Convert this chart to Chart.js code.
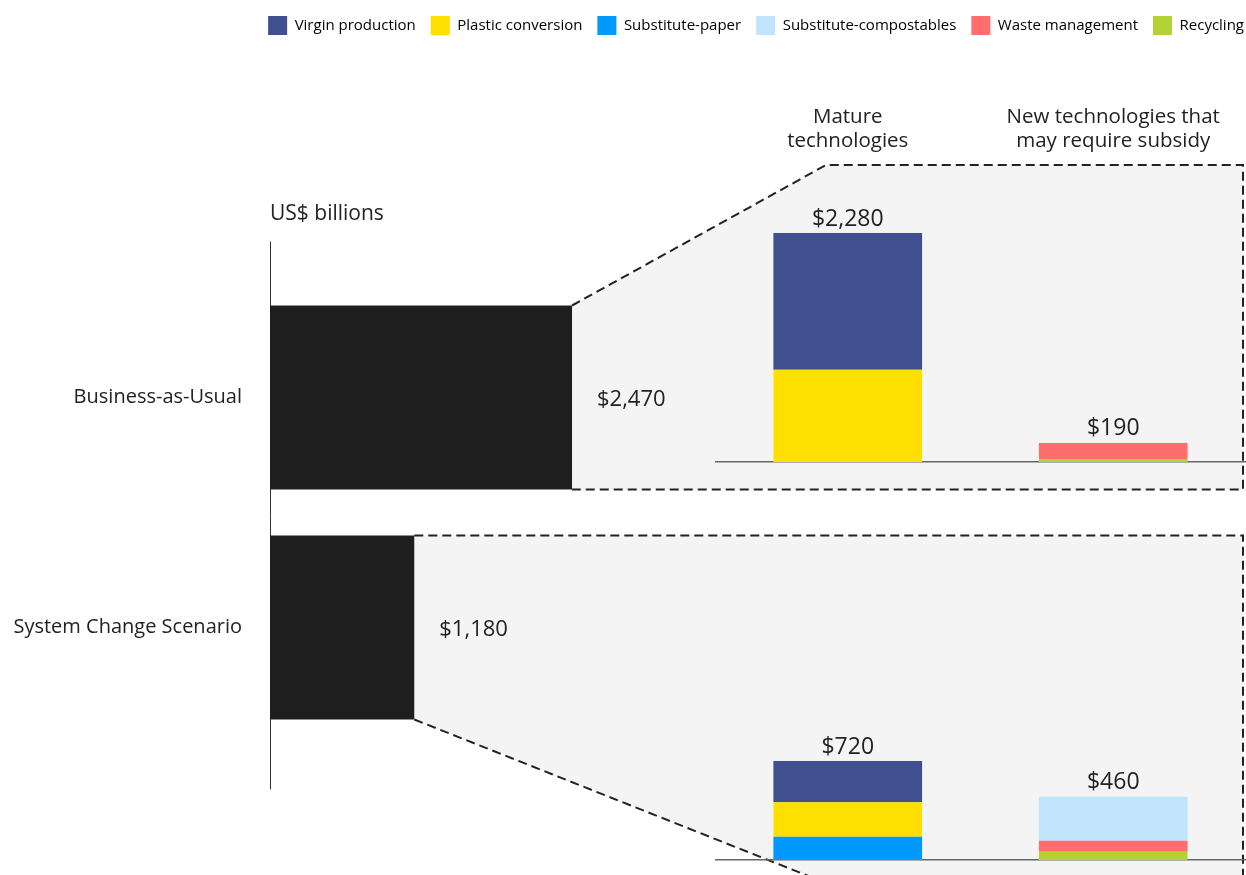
<!DOCTYPE html>
<html>
<head>
<meta charset="utf-8">
<script src="https://cdn.jsdelivr.net/npm/chart.js@4.4.1/dist/chart.umd.min.js"></script>
<style>
  body { margin: 0; background: #fff; }
  #wrap { position: relative; width: 1246px; height: 875px; overflow: hidden; }
  canvas { position: absolute; }
  #main { left: 0; top: 0; }
  #topRight { left: 715px; top: 90px; }
  #bottomRight { left: 715px; top: 700px; }
</style>
</head>
<body>
<div id="wrap">
  <canvas id="main" width="1246" height="875"></canvas>
  <canvas id="topRight" width="531" height="380"></canvas>
  <canvas id="bottomRight" width="531" height="175"></canvas>
</div>
<script>
// scenarios, total cost (US$ billions)
const scenarios = ['Business-as-Usual', 'System Change Scenario'];
const totalCost = [2470, 1180];

// groups of the breakdown charts
const techGroups = [['Mature', 'technologies'], ['New technologies that', 'may require subsidy']];

// legend
const seriesNames = ['Virgin production', 'Plastic conversion', 'Substitute-paper', 'Substitute-compostables', 'Waste management', 'Recycling'];
const seriesColors = ['#3f4f8f', '#ffdf00', '#0099ff', '#bfe4fb', '#ff6e6e', '#b2d235'];

// Business-as-Usual breakdown [mature, new]
const bauVirgin = [1360, 0];
const bauConversion = [920, 0];
const bauWaste = [0, 160];
const bauRecycling = [0, 30];

// System Change Scenario breakdown [mature, new]
const scsVirgin = [300, 0];
const scsConversion = [250, 0];
const scsPaper = [170, 0];
const scsCompost = [0, 320];
const scsWaste = [0, 80];
const scsRecycling = [0, 60];

Chart.defaults.font.family = '"Open Sans"';
Chart.defaults.color = '#222';
Chart.defaults.animation = false;

const fmt = v => '$' + v.toLocaleString('en-US');
const colorOf = name => seriesColors[seriesNames.indexOf(name)];

// gray zoom panels + dashed outlines behind the black bars
const zoomPanels = {
    id: 'zoomPanels',
    beforeDatasetsDraw(chart) {
        const ctx = chart.ctx;
        const area = chart.chartArea;
        const bars = chart.getDatasetMeta(0).data;
        const b1 = bars[0].getProps(['x', 'y', 'height'], true);
        const b2 = bars[1].getProps(['x', 'y', 'height'], true);
        const t1 = b1.y - b1.height / 2, bt1 = b1.y + b1.height / 2;
        const t2 = b2.y - b2.height / 2, bt2 = b2.y + b2.height / 2;
        const right = 1243;

        ctx.save();
        ctx.fillStyle = '#f4f4f4';
        ctx.beginPath();
        ctx.moveTo(b1.x, t1); ctx.lineTo(826, 165); ctx.lineTo(right, 165);
        ctx.lineTo(right, bt1); ctx.lineTo(b1.x, bt1); ctx.closePath();
        ctx.fill();
        ctx.beginPath();
        ctx.moveTo(b2.x, t2); ctx.lineTo(right, t2); ctx.lineTo(right, 885);
        ctx.lineTo(831, 885); ctx.lineTo(b2.x, bt2); ctx.closePath();
        ctx.fill();

        ctx.strokeStyle = '#222';
        ctx.lineWidth = 2;
        ctx.setLineDash([9, 5]);
        ctx.beginPath();
        ctx.moveTo(b1.x, t1); ctx.lineTo(826, 165); ctx.lineTo(right, 165);
        ctx.lineTo(right, bt1); ctx.lineTo(b1.x, bt1);
        ctx.stroke();
        ctx.beginPath();
        ctx.moveTo(b2.x, t2); ctx.lineTo(right, t2); ctx.lineTo(right, 885);
        ctx.moveTo(b2.x, bt2); ctx.lineTo(831, 885);
        ctx.stroke();

        // vertical axis line
        ctx.setLineDash([]);
        ctx.lineWidth = 1;
        ctx.strokeStyle = '#333';
        ctx.beginPath();
        ctx.moveTo(area.left + 0.5, area.top - 41);
        ctx.lineTo(area.left + 0.5, area.bottom + 47);
        ctx.stroke();
        ctx.restore();
    },
    afterDatasetsDraw(chart) {
        const ctx = chart.ctx;
        ctx.save();
        ctx.font = '22px "Open Sans"';
        ctx.fillStyle = '#222';
        ctx.textBaseline = 'middle';
        chart.getDatasetMeta(0).data.forEach((bar, i) => {
            ctx.fillText(fmt(totalCost[i]), bar.x + 25, bar.y + 2);
        });
        ctx.restore();
    }
};

// totals above stacked bars
const stackTotals = {
    id: 'stackTotals',
    afterDatasetsDraw(chart) {
        const ctx = chart.ctx;
        const xs = chart.scales.x, ys = chart.scales.y;
        ctx.save();
        ctx.font = '23px "Open Sans"';
        ctx.fillStyle = '#222';
        ctx.textAlign = 'center';
        ctx.textBaseline = 'middle';
        techGroups.forEach((g, i) => {
            const total = chart.data.datasets.reduce((s, d) => s + d.data[i], 0);
            ctx.fillText(fmt(total), xs.getPixelForValue(i), ys.getPixelForValue(total) - 14);
        });
        ctx.restore();
    }
};

new Chart(document.getElementById('main'), {
    type: 'bar',
    data: {
        labels: scenarios,
        datasets: [{
            data: totalCost,
            backgroundColor: '#1e1e1e',
            borderWidth: 0,
            barPercentage: 0.8,
            categoryPercentage: 1
        }]
    },
    options: {
        indexAxis: 'y',
        responsive: false,
        layout: { padding: { top: 1, left: 0, right: -13, bottom: 132.5 } },
        plugins: {
            tooltip: { enabled: false },
            legend: {
                position: 'top',
                align: 'end',
                labels: {
                    boxWidth: 19,
                    boxHeight: 19,
                    padding: 15,
                    color: '#555',
                    font: { size: 15 },
                    generateLabels: () => seriesNames.map((n, i) => ({
                        text: n,
                        fillStyle: seriesColors[i],
                        strokeStyle: seriesColors[i],
                        lineWidth: 0,
                        datasetIndex: 0
                    }))
                }
            }
        },
        scales: {
            x: {
                position: 'top',
                min: 0,
                max: 7982,
                ticks: { display: false },
                grid: { display: false, drawTicks: false },
                border: { display: false },
                title: {
                    display: true,
                    text: 'US$ billions',
                    align: 'start',
                    font: { size: 21 },
                    color: '#222',
                    padding: { top: 156, bottom: 0 }
                },
                afterFit: s => { s.height = 237.5; }
            },
            y: {
                ticks: { font: { size: 20 }, color: '#222', padding: 28 },
                grid: { display: false, drawTicks: false },
                border: { display: false },
                afterFit: s => { s.width = 270; }
            }
        }
    },
    plugins: [zoomPanels]
});

function breakdownChart(id, stack, yMax, padding, headings) {
    const scales = {
        x: {
            stacked: true,
            ticks: { display: false },
            grid: { display: false, drawTicks: false },
            border: { color: '#666', width: 1.5 },
            afterFit: s => { s.height = 0; s.paddingLeft = 0; s.paddingRight = 0; }
        },
        y: { stacked: true, display: false, min: 0, max: yMax }
    };
    if (headings) {
        scales.xTop = {
            type: 'category',
            position: 'top',
            labels: techGroups,
            ticks: { font: { size: 20.5, lineHeight: 1.17 }, color: '#222', padding: 48, maxRotation: 0, autoSkip: false },
            grid: { display: false, drawTicks: false },
            border: { display: false },
            afterFit: s => { s.height = 111; s.paddingLeft = 0; s.paddingRight = 0; }
        };
    }
    return new Chart(document.getElementById(id), {
        type: 'bar',
        data: {
            labels: techGroups.map(g => g.join(' ')),
            datasets: stack.map(([name, values]) => ({
                label: name,
                data: values,
                backgroundColor: colorOf(name),
                borderWidth: 0,
                barPercentage: 0.56,
                categoryPercentage: 1
            }))
        },
        options: {
            responsive: false,
            layout: { padding },
            plugins: { legend: { display: false }, tooltip: { enabled: false } },
            scales
        },
        plugins: [stackTotals]
    });
}

// stacked bottom-up
breakdownChart('topRight', [
    ['Recycling', bauRecycling],
    ['Plastic conversion', bauConversion],
    ['Waste management', bauWaste],
    ['Virgin production', bauVirgin]
], 2600, { top: 0, bottom: 8, left: 0, right: 0 }, true);

breakdownChart('bottomRight', [
    ['Substitute-paper', scsPaper],
    ['Recycling', scsRecycling],
    ['Plastic conversion', scsConversion],
    ['Waste management', scsWaste],
    ['Virgin production', scsVirgin],
    ['Substitute-compostables', scsCompost]
], 1000, { top: 22.5, bottom: 15, left: 0, right: 0 }, false);
</script>
</body>
</html>
